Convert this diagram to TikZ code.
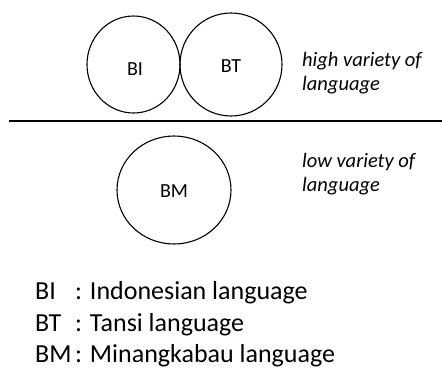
\documentclass[tikz,border=0pt]{standalone}
\usepackage{fontspec}
\setmainfont{Carlito}
\usetikzlibrary{shapes.geometric}
\begin{document}
\begin{tikzpicture}[x=1pt,y=-1pt,
  variety/.style={draw=black,line width=1.1pt,ellipse,inner sep=0pt},
  vlabel/.style={anchor=base,inner sep=0pt,font=\fontsize{20}{24}\selectfont},
  note/.style={anchor=base west,inner sep=0pt,font=\fontsize{20.5}{24}\selectfont\itshape},
  legend/.style={anchor=base west,inner sep=0pt,font=\fontsize{26}{32}\selectfont}]
\useasboundingbox (0,0) rectangle (442,370);

% high variety: Indonesian and Tansi
\node[variety,minimum width=93pt,minimum height=97pt] (bi) at (133.5,64.5) {};
\node[variety,minimum width=102pt,minimum height=103pt] (bt) at (231,64.5) {};
\node[vlabel] (bitext) at (135,75) {BI};
\node[vlabel] (bttext) at (231,72) {BT};

% divider between the two varieties
\coordinate (divl) at (9,121);
\coordinate (divr) at (442,121);
\draw[line width=1.5pt] (divl) -- (divr);

% low variety: Minangkabau
\node[variety,minimum width=114pt,minimum height=108pt] (bm) at (174,190) {};
\node[vlabel] (bmtext) at (174,197) {BM};

% side notes
\node[note] (high1) at (302,66) {high variety of};
\node[note] (high2) at (302,90) {language};
\node[note] (low1) at (302,167) {low variety of};
\node[note] (low2) at (302,191) {language};

% legend
\node[legend] (k1) at (35,299) {BI};
\node[legend] (v1) at (75,299) {: Indonesian language};
\node[legend] (k2) at (35,331) {BT};
\node[legend] (v2) at (75,331) {: Tansi language};
\node[legend] (k3) at (35,362) {BM};
\node[legend] (v3) at (75,362) {: Minangkabau language};
\end{tikzpicture}
\end{document}
